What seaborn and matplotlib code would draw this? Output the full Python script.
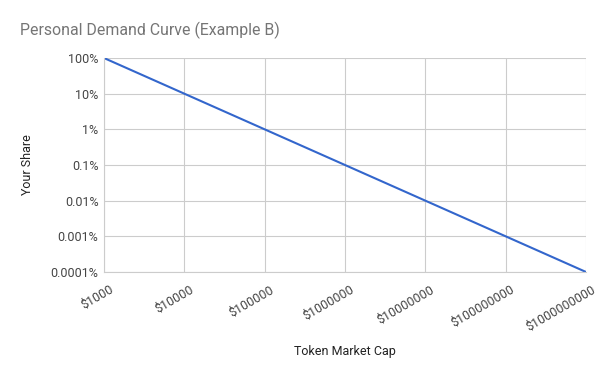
import numpy as np
import pandas as pd
import matplotlib
matplotlib.use("Agg")
import matplotlib.pyplot as plt
import matplotlib.transforms as mtransforms
import seaborn as sns

# data
market_cap = [1e3, 1e4, 1e5, 1e6, 1e7, 1e8, 1e9]
share = [1.0, 0.1, 0.01, 0.001, 0.0001, 0.00001, 0.000001]
x_labels = ["$1000", "$10000", "$100000", "$1000000", "$10000000",
            "$100000000", "$1000000000"]
y_ticks = [1e-6, 1e-5, 1e-4, 1e-3, 1e-2, 1e-1, 1]
y_labels = ["0.0001%", "0.001%", "0.01%", "0.1%", "1%", "10%", "100%"]

sns.set_style("white")
plt.rcParams["font.family"] = ["Roboto", "DejaVu Sans"]

df = pd.DataFrame({"cap": market_cap, "share": share})

fig = plt.figure(figsize=(6.06, 3.75), dpi=100)
ax = fig.add_axes([0.1716, 0.2747, 0.7954, 0.5706])
sns.lineplot(data=df, x="cap", y="share", ax=ax, color="#3366cc", linewidth=1.5)
ax.set_xscale("log")
ax.set_yscale("log")
ax.set_xlim(1e3, 1e9)
ax.set_ylim(1e-6, 1)

ax.set_xticks(market_cap)
ax.set_xticklabels(x_labels, rotation=30, ha="right", rotation_mode="anchor")
ax.set_yticks(y_ticks)
ax.set_yticklabels(y_labels)
ax.minorticks_off()
ax.tick_params(axis="both", length=0, labelsize=9, labelcolor="#444444")
ax.tick_params(axis="x", pad=8)
ax.tick_params(axis="y", pad=4)

# nudge the rotated labels a little to the right, like the original
shift = mtransforms.ScaledTranslation(5 / 100, 0, fig.dpi_scale_trans)
for lbl in ax.get_xticklabels():
    lbl.set_transform(lbl.get_transform() + shift)

ax.grid(True, color="#cccccc", linewidth=0.8)
for s in ["top", "right"]:
    ax.spines[s].set_visible(False)
ax.spines["left"].set_color("#cccccc")
ax.spines["bottom"].set_color("#cccccc")

ax.set_xlabel("Token Market Cap", fontsize=9, color="#222222", labelpad=8)
ax.set_ylabel("Your Share", fontsize=9, color="#222222", labelpad=12)
fig.text(0.033, 0.905, "Personal Demand Curve (Example B)", fontsize=11.4,
         color="#757575")

fig.savefig("out.png", dpi=100)
